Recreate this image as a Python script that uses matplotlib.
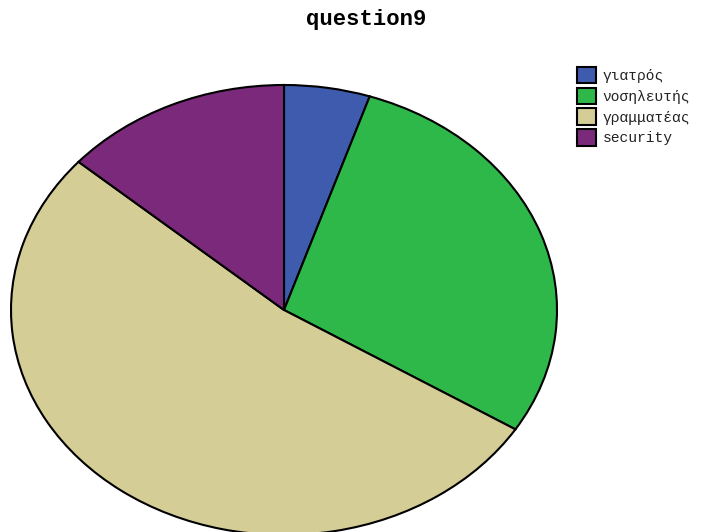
import matplotlib
matplotlib.use("Agg")
import matplotlib.pyplot as plt

# --- Data ---
labels = ["γιατρός", "νοσηλευτής", "γραμματέας", "security"]
counts = [3, 17, 31, 8]
colors = ["#3e5bad", "#2eb84a", "#d4cd96", "#7b2a7b"]

W, H = 701, 532
fig = plt.figure(figsize=(W / 100, H / 100), dpi=100)

# elliptical pie: centre (284, 310) px, radii 273 x 225 px
cx, cy, rx, ry = 284, 310, 273, 225
ax = fig.add_axes([(cx - rx) / W, (H - cy - ry) / H, 2 * rx / W, 2 * ry / H])
wedges, _ = ax.pie(counts, colors=colors, startangle=90, counterclock=False,
                   radius=1, wedgeprops=dict(edgecolor="black", linewidth=1.5, clip_on=False))
ax.set_aspect("auto")
ax.set_xlim(-1, 1)
ax.set_ylim(-1, 1)
ax.axis("off")

fig.text(366 / W, 1 - 19 / H, "question9", ha="center", va="center",
         fontsize=16, fontweight="bold", family="Liberation Mono")

leg = fig.legend(wedges, labels, loc="upper left",
                 bbox_to_anchor=(577 / W, 1 - 67 / H), frameon=False,
                 borderpad=0, borderaxespad=0, handlelength=1.3, handleheight=1.35,
                 labelspacing=0.3, handletextpad=0.45,
                 prop=dict(family="Liberation Mono", size=10.5))
for t in leg.get_texts():
    t.set_color("#222222")

fig.savefig("out.png", dpi=100)
